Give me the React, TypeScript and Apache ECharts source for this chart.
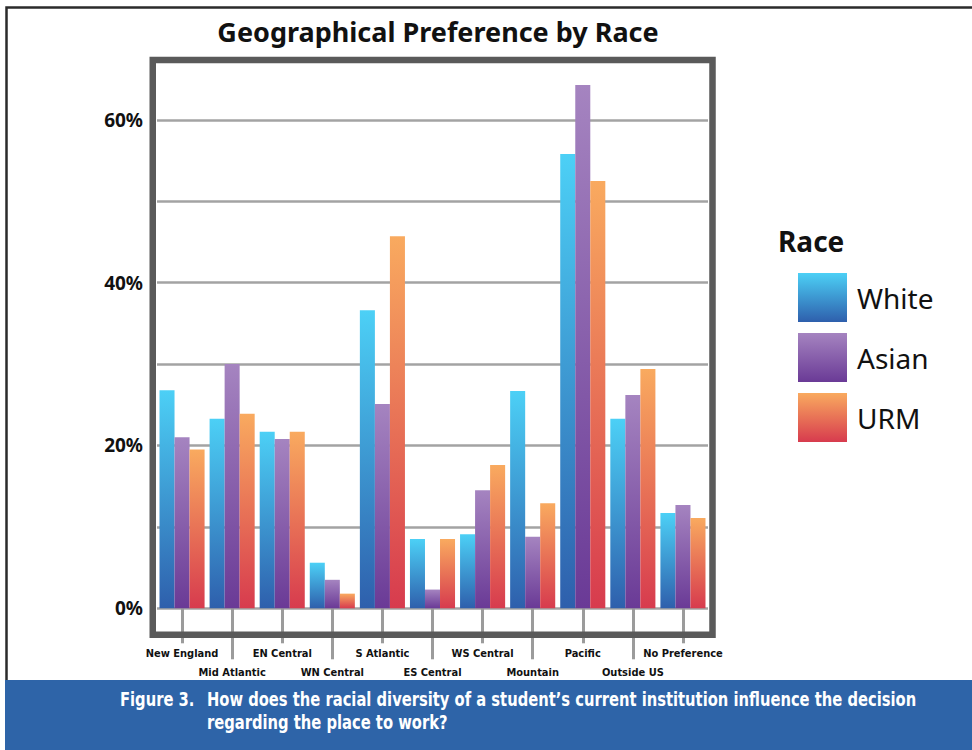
import React, { useEffect, useRef } from "react";
import * as echarts from "echarts";

const categories = [
  "New England",
  "Mid Atlantic",
  "EN Central",
  "WN Central",
  "S Atlantic",
  "ES Central",
  "WS Central",
  "Mountain",
  "Pacific",
  "Outside US",
  "No Preference",
];

const whiteValues = [26.8, 23.3, 21.7, 5.6, 36.6, 8.5, 9.1, 26.7, 55.8, 23.3, 11.7];
const asianValues = [21.0, 30.0, 20.8, 3.5, 25.1, 2.3, 14.5, 8.8, 64.3, 26.2, 12.7];
const urmValues = [19.5, 23.9, 21.7, 1.8, 45.7, 8.5, 17.6, 12.9, 52.5, 29.4, 11.1];

const yTickLabels = [0, 20, 40, 60];

const narrow = "'Liberation Sans Narrow', 'Arial Narrow', 'DejaVu Sans Condensed', sans-serif";
const sans = "'Noto Sans', 'Open Sans', sans-serif";

const grad = (top: string, bottom: string) =>
  new echarts.graphic.LinearGradient(0, 0, 0, 1, [
    { offset: 0, color: top },
    { offset: 1, color: bottom },
  ]);

export default function App() {
  const ref = useRef<HTMLDivElement>(null);

  useEffect(() => {
    if (!ref.current) return;
    const chart = echarts.init(ref.current, null, { renderer: "svg" });

    // Two bottom axes share the categories: even labels sit on the upper row
    // with short ticks, odd labels on the lower row with long ticks.
    const baseX = (even: boolean, tickLen: number, labelMargin: number) => ({
      type: "category",
      data: categories,
      position: "bottom",
      gridIndex: 0,
      axisLine: { show: false },
      axisTick: {
        show: true,
        alignWithLabel: true,
        length: tickLen,
        interval: (i: number) => (i % 2 === 0) === even,
        lineStyle: { color: "#9b9b9b", width: 3 },
      },
      axisLabel: {
        interval: (i: number) => (i % 2 === 0) === even,
        margin: labelMargin,
        fontFamily: narrow,
        fontWeight: "bold",
        fontSize: 11,
        color: "#111",
      },
    });

    const captionStyle = {
      fill: "#ffffff",
      fontFamily: narrow,
      fontWeight: "bold",
      fontSize: 20,
      lineHeight: 23,
    };

    chart.setOption({
      animation: false,
      backgroundColor: "#ffffff",
      title: [
        {
          text: "Geographical Preference by Race",
          left: 433,
          top: 13,
          textAlign: "center",
          textStyle: { fontFamily: sans, fontWeight: "bold", fontSize: 27, color: "#111" },
        },
        {
          text: "Race",
          left: 773,
          top: 222,
          textStyle: { fontFamily: sans, fontWeight: "bold", fontSize: 28, color: "#111" },
        },
      ],
      legend: {
        orient: "vertical",
        left: 798,
        top: 273,
        padding: 0,
        itemWidth: 49,
        itemHeight: 49,
        itemGap: 11,
        icon: "rect",
        data: ["White", "Asian", "URM"],
        textStyle: {
          fontFamily: sans,
          fontSize: 28,
          color: "#111",
          padding: [0, 0, 0, 5],
        },
      },
      grid: { left: 157, right: 264, top: 62.9, bottom: 141.7, containLabel: false },
      xAxis: [baseX(true, 35, 40), baseX(false, 51, 59)],
      yAxis: {
        type: "value",
        min: 0,
        max: 67,
        interval: 10,
        axisLine: { show: false },
        axisTick: { show: false },
        splitLine: {
          show: true,
          showMaxLine: false,
          lineStyle: { color: "#a3a3a3", width: 2.5 },
        },
        axisLabel: {
          showMaxLabel: false,
          margin: 14,
          fontFamily: sans,
          fontWeight: "bold",
          fontSize: 19,
          color: "#111",
          formatter: (v: number) => (yTickLabels.includes(v) ? `${v}%` : ""),
        },
      },
      series: [
        {
          name: "White",
          type: "bar",
          data: whiteValues,
          barGap: "0%",
          barCategoryGap: "10%",
          itemStyle: { color: grad("#4cd0f6", "#2e5fac") },
        },
        {
          name: "Asian",
          type: "bar",
          data: asianValues,
          barGap: "0%",
          barCategoryGap: "10%",
          itemStyle: { color: grad("#a584c0", "#6a3a96") },
        },
        {
          name: "URM",
          type: "bar",
          data: urmValues,
          barGap: "0%",
          barCategoryGap: "10%",
          itemStyle: { color: grad("#f9aa5f", "#d73b4e") },
        },
      ],
      graphic: [
        {
          type: "polyline",
          z: 100,
          shape: { points: [[972, 7.5], [6.5, 7.5], [6.5, 681]] },
          style: { stroke: "#2b2b2b", lineWidth: 2.5, fill: "none" },
        },
        {
          type: "rect",
          z: 100,
          shape: { x: 152.75, y: 60, width: 559.75, height: 574.7 },
          style: { fill: "none", stroke: "#5a5a5a", lineWidth: 6.5 },
        },
        {
          type: "rect",
          z: 100,
          shape: { x: 5, y: 680, width: 967, height: 70 },
          style: { fill: "#2e64a8" },
        },
        {
          type: "text",
          z: 101,
          x: 120,
          y: 687,
          scaleX: 0.82,
          style: { ...captionStyle, text: "Figure 3." },
        },
        {
          type: "text",
          z: 101,
          x: 207,
          y: 687,
          scaleX: 0.82,
          style: {
            ...captionStyle,
            text:
              "How does the racial diversity of a student’s current institution influence the decision\nregarding the place to work?",
          },
        },
      ],
    });

    return () => chart.dispose();
  }, []);

  return (
    <div
      ref={ref}
      style={{ position: "absolute", left: 0, top: 0, width: 972, height: 750 }}
    />
  );
}
